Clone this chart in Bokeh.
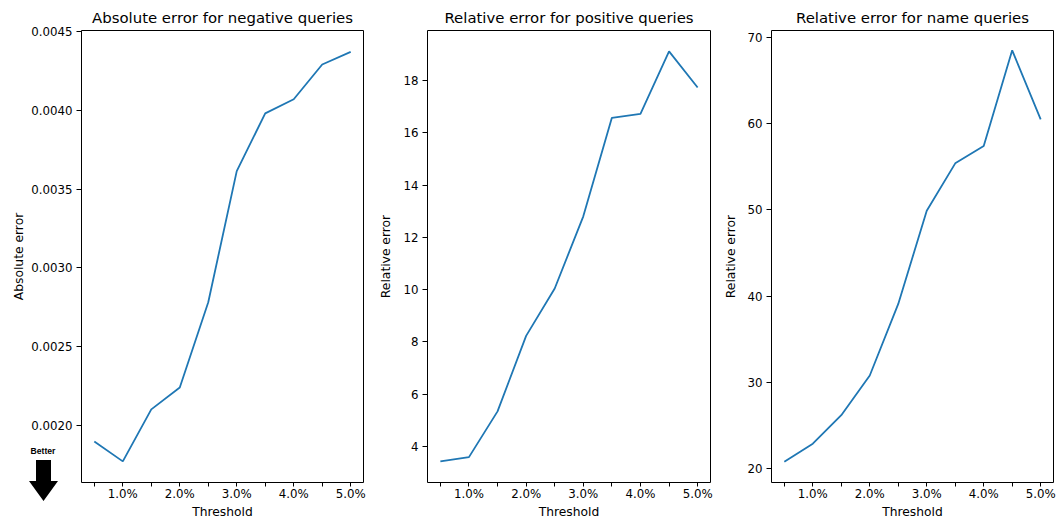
from bokeh.plotting import figure
from bokeh.models import FixedTicker, Range1d, GridBox, Div
from bokeh.embed import file_html
from bokeh.resources import INLINE

thresholds = [0.5, 1.0, 1.5, 2.0, 2.5, 3.0, 3.5, 4.0, 4.5, 5.0]
neg_abs_err = [0.001898, 0.001772, 0.002102, 0.002241, 0.002782, 0.003614, 0.00398, 0.00407, 0.00429, 0.00437]
pos_rel_err = [3.43, 3.59, 5.34, 8.23, 10.04, 12.80, 16.57, 16.72, 19.11, 17.73]
name_rel_err = [20.8, 22.9, 26.2, 30.8, 39.1, 49.9, 55.4, 57.4, 68.5, 60.5]

x_tick_labels = ["", "1.0%", "", "2.0%", "", "3.0%", "", "4.0%", "", "5.0%"]
neg_yticks = [0.0020, 0.0025, 0.0030, 0.0035, 0.0040, 0.0045]
neg_ytick_labels = ["0.0020", "0.0025", "0.0030", "0.0035", "0.0040", "0.0045"]
pos_yticks = [4, 6, 8, 10, 12, 14, 16, 18]
name_yticks = [20, 30, 40, 50, 60, 70]

titles = ["Absolute error for negative queries", "Relative error for positive queries", "Relative error for name queries"]
ylabels = ["Absolute error", "Relative error", "Relative error"]

FONT = "DejaVu Sans"
LINE = "#1f77b4"
H = 522


def make_fig(title, ylabel, ys, yr, yticks, ylabels_map, width, bl, br, ylab_standoff):
    p = figure(width=width, height=H, output_backend="svg", toolbar_location=None,
               x_range=Range1d(0.275, 5.225), y_range=Range1d(*yr),
               min_border_left=bl, min_border_right=br, min_border_top=30, min_border_bottom=40)
    p.title.text = title
    p.title.align = "center"
    p.title.text_font = FONT
    p.title.text_font_size = "14.9px"
    p.title.text_font_style = "normal"
    p.title.text_color = "black"
    p.title.standoff = 8
    p.line(thresholds, ys, line_color=LINE, line_width=1.8)
    p.grid.visible = False
    p.outline_line_color = "black"
    p.outline_line_width = 1
    p.outline_line_alpha = 1
    p.xaxis.ticker = FixedTicker(ticks=thresholds)
    p.xaxis.major_label_overrides = {t: l for t, l in zip(thresholds, x_tick_labels)}
    p.yaxis.ticker = FixedTicker(ticks=yticks)
    if ylabels_map:
        p.yaxis.major_label_overrides = ylabels_map
    for ax in (p.xaxis[0], p.yaxis[0]):
        ax.axis_line_color = None
        ax.major_tick_in = 0
        ax.major_tick_out = 5
        ax.minor_tick_line_color = None
        ax.major_tick_line_color = "black"
        ax.major_label_text_font = FONT
        ax.major_label_text_font_size = "11.8px"
        ax.major_label_text_color = "black"
        ax.axis_label_text_font = FONT
        ax.axis_label_text_font_size = "12.3px"
        ax.axis_label_text_font_style = "normal"
        ax.axis_label_text_color = "black"
    p.xaxis.axis_label = "Threshold"
    p.yaxis.axis_label = ylabel
    p.xaxis.major_tick_out = 4
    p.xaxis.major_label_standoff = 0
    p.yaxis.major_label_standoff = 4
    p.xaxis.axis_label_standoff = 1
    p.yaxis.axis_label_standoff = ylab_standoff
    return p


p1 = make_fig(titles[0], ylabels[0], neg_abs_err, (0.001638, 0.004506), neg_yticks,
              {t: l for t, l in zip(neg_yticks, neg_ytick_labels)}, 376, 81, 13, 2)
p2 = make_fig(titles[1], ylabels[1], pos_rel_err, (2.62, 19.91), pos_yticks, None, 345, 50, 11, 7)
p3 = make_fig(titles[2], ylabels[2], name_rel_err, (18.4, 70.8), name_yticks, None, 337, 50, 5, 6)

# "Better" indicator drawn as inline SVG in a Div overlapping the first figure's cell
better_svg = (
    '<svg xmlns="http://www.w3.org/2000/svg" width="70" height="%d" '
    'style="display:block;position:absolute;left:0;top:0;overflow:visible">'
    '<text x="43" y="454" text-anchor="middle" font-family="DejaVu Sans" font-weight="bold" '
    'font-size="8.6px" fill="black">Better</text>'
    '<polygon points="36,460 51,460 51,481 58,481 43.5,501 29,481 36,481" fill="black"/>'
    '</svg>' % H
)
ov = Div(text=better_svg, width=70, height=H,
         styles={"pointer-events": "none", "margin": "0", "padding": "0"})

layout = GridBox(children=[(p1, 0, 0), (p2, 0, 1), (p3, 0, 2), (ov, 0, 0)], spacing=0)
open("out.html", "w").write(file_html(layout, INLINE))
